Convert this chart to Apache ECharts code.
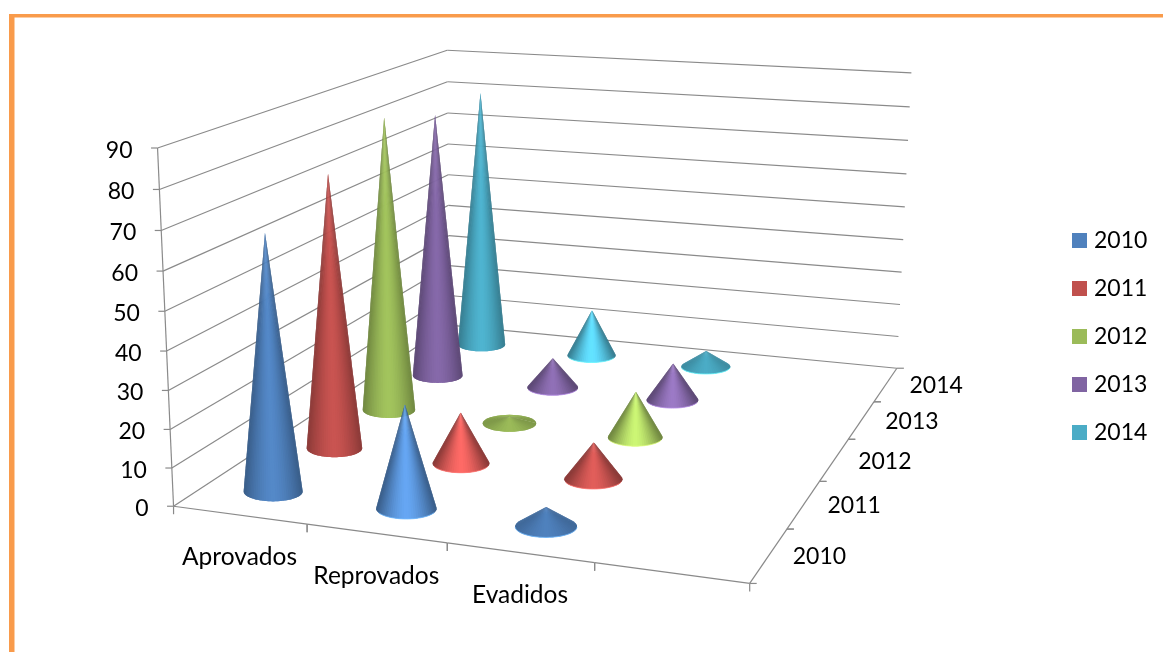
<!DOCTYPE html>
<html>
<head>
<meta charset="utf-8">
<style>html,body{margin:0;padding:0;background:#fff}#c{width:1163px;height:652px}</style>
<script src="https://cdn.jsdelivr.net/npm/echarts@6/dist/echarts.min.js"></script>
</head>
<body>
<div id="c"></div>
<script>
var categories = ['Aprovados', 'Reprovados', 'Evadidos', ''];
var years = ['2010', '2011', '2012', '2013', '2014'];
var valueTicks = [0, 10, 20, 30, 40, 50, 60, 70, 80, 90];
var values2010 = [67, 27, 5];
var values2011 = [75, 14, 10];
var values2012 = [84, 2, 13];
var values2013 = [79, 9, 11];
var values2014 = [80, 14.5, 5];
var seriesValues = [values2010, values2011, values2012, values2013, values2014];
var colors = ['#4F81BD', '#C0504D', '#9BBB59', '#8064A2', '#4BACC6'];

// Camera of the 3D box: [across, depth, height] (0..1) -> picture position.
var cameraAnchors = [
  [0,0,0,174,507],[1/4,0,0,307,524],[2/4,0,0,447,544],[3/4,0,0,594,563],[1,0,0,749,584],
  [1,.2,0,787,529],[1,.4,0,820,480],[1,.6,0,848,438],[1,.8,0,875,401],[1,1,0,897,368],
  [0,0,1,157,148],[0,0,8/9,159,189],[0,0,7/9,161,230],[0,0,6/9,163,271],[0,0,5/9,165,311],
  [0,0,4/9,167,351],[0,0,3/9,169,391],[0,0,2/9,171,429],[0,0,1/9,172,468],
  [0,1,1,448,50],[0,1,8/9,448,81.7],[0,1,7/9,448,113],[0,1,6/9,448,144],[0,1,5/9,448,175],[0,1,4/9,448,205],[0,1,3/9,448,236],[0,1,0,448,325],
  [1,1,1,911,73],[1,1,8/9,909.5,107],[1,1,7/9,908,141],[1,1,6/9,906.6,174],[1,1,5/9,905,207],
  [1,1,4/9,903.3,240],[1,1,3/9,901.7,272],[1,1,2/9,900,305],[1,1,1/9,898.6,337]
];
function solveCamera(a) {
  var n = 11, x = [0,0,0,0,0,0,0,0,0,0,0], iter;
  for (iter = 0; iter < 6; iter++) {
    var M = [], rows = [], i, j, k, r;
    a.forEach(function (p) {
      var w = 1/(x[8]*p[0]+x[9]*p[1]+x[10]*p[2]+1);
      rows.push([p[0],p[1],p[2],1,0,0,0,0,-p[3]*p[0],-p[3]*p[1],-p[3]*p[2],p[3]].map(function (c) { return c*w; }));
      rows.push([0,0,0,0,p[0],p[1],p[2],1,-p[4]*p[0],-p[4]*p[1],-p[4]*p[2],p[4]].map(function (c) { return c*w; }));
    });
    for (i = 0; i < n; i++) { M[i] = []; for (j = 0; j <= n; j++) { var s = 0; rows.forEach(function (q) { s += q[i]*q[j]; }); M[i][j] = s; } }
    for (i = 0; i < n; i++) {
      var piv = i; for (r = i+1; r < n; r++) if (Math.abs(M[r][i]) > Math.abs(M[piv][i])) piv = r;
      var t = M[i]; M[i] = M[piv]; M[piv] = t;
      for (r = 0; r < n; r++) if (r !== i) { var f = M[r][i]/M[i][i]; for (k = i; k <= n; k++) M[r][k] -= f*M[i][k]; }
    }
    for (i = 0; i < n; i++) x[i] = M[i][n]/M[i][i];
  }
  return x;
}
var P = solveCamera(cameraAnchors);
function homog(u, d, v) { return P[8]*u + P[9]*d + P[10]*v + 1; }
function project(u, d, v) {
  var w = homog(u, d, v);
  return [(P[0]*u + P[1]*d + P[2]*v + P[3])/w, (P[4]*u + P[5]*d + P[6]*v + P[7])/w];
}

var AXIS_COLOR = '#8a8a8a', FONT = 'Lato', FONT_SIZE = 23, CAT_FONT_SIZE = 24.5;
function seg(a, b, color, width) {
  return {type:'line', shape:{x1:a[0],y1:a[1],x2:b[0],y2:b[1]}, style:{stroke:color||AXIS_COLOR, lineWidth:width||1.2}};
}
function txt(s, x, y, align, size) {
  return {type:'text', style:{text:s, x:x, y:y, textAlign:align, textVerticalAlign:'middle', fontFamily:FONT, fontSize:size||FONT_SIZE, fill:'#000'}};
}
function normU(params, api, idx) { var c = api.coord([idx, 0]), r = params.coordSys; return (c[0]-r.x)/r.width; }
function normV(params, api, val) { var c = api.coord([0, val]), r = params.coordSys; return (r.y+r.height-c[1])/r.height; }

function renderWall(params, api) {
  var val = api.value(1), w = normV(params, api, val), kids = [];
  var front = project(0,0,w), back = project(0,1,w), right = project(1,1,w);
  kids.push(seg(front, back), seg(back, right));
  kids.push(seg([front[0]-6.5, front[1]], front));
  kids.push(txt(String(val), front[0]-25, front[1]+2.5, 'right'));
  if (params.dataIndex === 0) kids.push(seg(project(0,0,0), project(0,0,1)));
  return {type:'group', children:kids};
}
function renderCatAxis(params, api) {
  var i = api.value(0), u = normU(params, api, i), bw = api.size([1,0])[0]/params.coordSys.width;
  var kids = [], a = project(u-bw/2,0,0), m = project(u,0,0), b = project(u+bw/2,0,0);
  kids.push(seg(a, b), seg(a, [a[0], a[1]+8]), seg(b, [b[0], b[1]+8]));
  if (categories[i]) kids.push(txt(categories[i], m[0], m[1]+42.5, 'center', CAT_FONT_SIZE));
  return {type:'group', children:kids};
}
function renderDepthAxis(params, api) {
  var i = params.dataIndex, n = years.length;
  var a = project(1,i/n,0), b = project(1,(i+1)/n,0), m = project(1,(i+.5)/n,0);
  var kids = [seg(a, b), seg(a, [a[0]+7, a[1]]), seg(b, [b[0]+7, b[1]])];
  kids.push(txt(years[i], m[0]+50.5, m[1]+1.5, 'center'));
  return {type:'group', children:kids};
}

function shade(hex, k) {
  var n = parseInt(hex.slice(1), 16), c = [n>>16, (n>>8)&255, n&255].map(function (x) { return Math.min(255, Math.round(x*k)); });
  return 'rgb(' + c.join(',') + ')';
}
var slopeStops = [0.8, 1.7, 4, 9], peakStops = [1.0, 1.33, 1.28, 1.05];
function peakFor(r) {
  if (r <= slopeStops[0]) return peakStops[0];
  for (var i = 1; i < slopeStops.length; i++) if (r <= slopeStops[i]) {
    return peakStops[i-1] + (peakStops[i]-peakStops[i-1])*(r-slopeStops[i-1])/(slopeStops[i]-slopeStops[i-1]);
  }
  return peakStops[peakStops.length-1];
}
function renderCone(yearIndex) {
  return function (params, api) {
    var idx = api.value(0), val = api.value(1), u = normU(params, api, idx), h = normV(params, api, val);
    var d = (yearIndex+.5)/years.length, base = project(u,d,0), apex = project(u,d,h);
    var q = homog(.125,.1,0)/homog(u,d,0);
    var a = 29.5*q, b = 10*Math.pow(q,1.7), H = base[1]-apex[1], color = colors[yearIndex];
    var flat = H <= b*1.02, alpha = flat ? 0 : Math.asin(b/H);
    var from = flat ? 2*Math.PI : Math.PI+alpha, to = flat ? 0 : -alpha, N = 40, pts = [], kids = [], i;
    for (i = 0; i <= N; i++) {
      var th = from+(to-from)*i/N;
      pts.push([base[0]+a*Math.cos(th), base[1]+b*Math.sin(th), Math.cos(th)]);
    }
    var ratio = H/a, peak = peakFor(ratio), dark = ratio < 1 ? 0.82 : 0.72;
    for (i = 0; i < N; i++) {
      var e = Math.min(i+2, N), x = (pts[i][2]+pts[i+1][2])/2, k = dark+(peak-dark)*(1-Math.pow(Math.abs(x),1.6));
      kids.push({type:'polygon', shape:{points:[[apex[0],apex[1]],[pts[i][0],pts[i][1]],[pts[i+1][0],pts[i+1][1]],[pts[e][0],pts[e][1]]]},
        style:{fill:shade(color,k)}});
    }
    if (ratio < 5 && ratio > 0.5) {
      kids.push({type:'polyline', shape:{points:pts.slice(6,N-5).map(function (p) { return [p[0],p[1]]; })},
        style:{fill:null, stroke:shade(color,1.45), lineWidth:1, opacity:.8}});
    }
    return {type:'group', children:kids};
  };
}

var series = [
  {type:'custom', name:'wall', z:1, silent:true, renderItem:renderWall, data:valueTicks.map(function (v) { return [0,v]; })},
  {type:'custom', name:'cat', z:1, silent:true, renderItem:renderCatAxis, data:categories.map(function (c,i) { return [i,0]; })},
  {type:'custom', name:'depth', z:1, silent:true, renderItem:renderDepthAxis, data:years.map(function (y,i) { return [i,0]; })}
];
years.forEach(function (y, s) {
  series.push({type:'custom', name:y, z:10-s, silent:true, itemStyle:{color:colors[s]}, renderItem:renderCone(s),
    data:seriesValues[s].map(function (v,i) { return [i,v]; })});
});

var ORANGE = '#F99B4B';
var chart = echarts.init(document.getElementById('c'));
chart.setOption({
  animation:false,
  backgroundColor:'#fff',
  grid:{left:0, right:0, top:0, bottom:0},
  xAxis:{type:'category', data:categories, show:false},
  yAxis:{type:'value', min:0, max:90, interval:10, show:false},
  legend:{data:years, orient:'vertical', left:1067, top:224, itemWidth:15, itemHeight:15, itemGap:25, icon:'rect', selectedMode:false,
    textStyle:{fontFamily:FONT, fontSize:FONT_SIZE, color:'#000', padding:[0,0,0,2]}},
  graphic:[
    {type:'rect', shape:{x:9,y:14,width:1154,height:3.5}, style:{fill:ORANGE}, silent:true},
    {type:'rect', shape:{x:9,y:14,width:5.5,height:638}, style:{fill:ORANGE}, silent:true}
  ],
  series:series
});
</script>
</body>
</html>
